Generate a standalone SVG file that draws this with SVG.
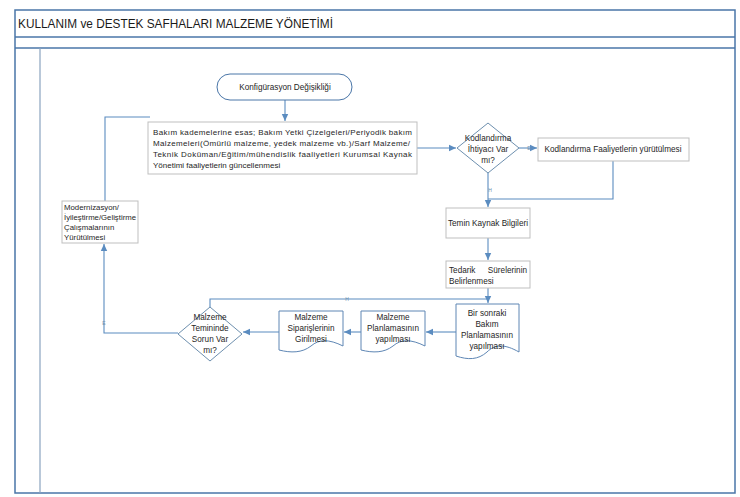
<svg xmlns="http://www.w3.org/2000/svg" width="740" height="497" viewBox="0 0 740 497">
<defs>
<style>
.frame{fill:none;stroke:#4a76a8;stroke-width:1.5}
.box{fill:#fff;stroke:#bfbfbf;stroke-width:1}
.dia{fill:#fff;stroke:#6d8fae;stroke-width:1}
.term{fill:#fff;stroke:#4a76a8;stroke-width:1}
.doc{fill:#fff;stroke:#5e86b4;stroke-width:1}
.t{font-family:"Liberation Sans",Arial,sans-serif;font-size:8.2px;fill:#262626}
.s{font-size:8px}
.m{font-size:7.8px}
.c{text-anchor:middle}
.e{text-anchor:end}
.lbl{font-family:"Liberation Sans",Arial,sans-serif;font-size:5px;fill:#6d8fae;text-anchor:middle}
.con{fill:none;stroke:#5b8cc0;stroke-width:1.1}
</style>
<marker id="ah" markerWidth="8" markerHeight="8" refX="7" refY="4" orient="auto" markerUnits="userSpaceOnUse">
<path d="M0,0.8 L7,4 L0,7.2 Z" fill="#5b8cc0"/>
</marker>
</defs>
<rect width="740" height="497" fill="#fff"/>
<g id="frame">
<rect class="frame" x="15" y="10" width="720" height="483"/>
<line class="frame" x1="15" y1="37" x2="735" y2="37"/>
<line class="frame" x1="15" y1="48" x2="735" y2="48"/>
<line x1="40" y1="48" x2="40" y2="493" stroke="#8aa3bf" stroke-width="1.2"/>
<text x="18" y="28" font-family="Liberation Sans,Arial,sans-serif" font-size="12.5" fill="#1a1a1a" textLength="315" lengthAdjust="spacingAndGlyphs">KULLANIM ve DESTEK SAFHALARI MALZEME YÖNETİMİ</text>
</g>
<g id="connectors">
<path class="con" d="M285,100 V121" marker-end="url(#ah)"/>
<path class="con" d="M105,201 V117 H150"/>
<path class="con" d="M417,148 H456" marker-end="url(#ah)"/>
<path class="con" d="M519,148 H537" marker-end="url(#ah)"/>
<text class="lbl" x="529" y="150">E</text>
<path class="con" d="M613,161 V199 H488"/>
<path class="con" d="M488,173 V207" marker-end="url(#ah)"/>
<text class="lbl" x="490" y="192">H</text>
<path class="con" d="M488,238 V260" marker-end="url(#ah)"/>
<path class="con" d="M488,288 V303" marker-end="url(#ah)"/>
<path class="con" d="M210,307 V299 H488"/>
<text class="lbl" x="347" y="301">H</text>
<path class="con" d="M456,332 H426" marker-end="url(#ah)"/>
<path class="con" d="M361,332 H344" marker-end="url(#ah)"/>
<path class="con" d="M279,332 H243" marker-end="url(#ah)"/>
<path class="con" d="M178,333 H104 V244" marker-end="url(#ah)"/>
<text class="lbl" x="104" y="325">E</text>
</g>
<g id="n-start">
<rect class="term" x="217" y="74" width="135" height="26" rx="13"/>
<text class="t c" x="285" y="90">Konfigürasyon Değişikliği</text>
</g>
<g id="n-guncelleme">
<rect class="box" x="148" y="122" width="269" height="52"/>
<text class="t s" x="153" y="135" textLength="259" lengthAdjust="spacing">Bakım kademelerine esas; Bakım Yetki Çizelgeleri/Periyodik bakım</text>
<text class="t s" x="153" y="146" textLength="257" lengthAdjust="spacing">Malzemeleri(Ömürlü malzeme, yedek malzeme vb.)/Sarf Malzeme/</text>
<text class="t s" x="153" y="157" textLength="259" lengthAdjust="spacing">Teknik Doküman/Eğitim/mühendislik faaliyetleri Kurumsal Kaynak</text>
<text class="t s" x="153" y="168">Yönetimi faaliyetlerin güncellenmesi</text>
</g>
<g id="n-kodlandirma-karar">
<polygon class="dia" points="488,123 519,148 488,173 457,148"/>
<text class="t c" x="488" y="141">Kodlandırma</text>
<text class="t c" x="488" y="152">İhtiyacı Var</text>
<text class="t c" x="488" y="163">mı?</text>
</g>
<g id="n-kodlandirma">
<rect class="box" x="538" y="138" width="151" height="23"/>
<text class="t c" x="613" y="152">Kodlandırma Faaliyetlerin yürütülmesi</text>
</g>
<g id="n-temin">
<rect class="box" x="446" y="208" width="84" height="30"/>
<text class="t c" x="488" y="226">Temin Kaynak Bilgileri</text>
</g>
<g id="n-tedarik">
<rect class="box" x="446" y="261" width="84" height="27"/>
<text class="t" x="449" y="273">Tedarik</text>
<text class="t e" x="527" y="273">Sürelerinin</text>
<text class="t" x="449" y="284">Belirlenmesi</text>
</g>
<g id="n-bakim-plan">
<path class="doc" d="M456,304 H519 V352 C505,344 495,344 487,352 C478,360 468,360 456,356 Z"/>
<text class="t c" x="487" y="316">Bir sonraki</text>
<text class="t c" x="487" y="327">Bakım</text>
<text class="t c" x="487" y="338">Planlamasının</text>
<text class="t c" x="487" y="349">yapılması</text>
</g>
<g id="n-malzeme-plan">
<path class="doc" d="M361,311 H425 V346 C411,339 401,339 393,346 C384,353 373,353 361,350 Z"/>
<text class="t c" x="393" y="320">Malzeme</text>
<text class="t c" x="393" y="331">Planlamasının</text>
<text class="t c" x="393" y="342">yapılması</text>
</g>
<g id="n-siparis">
<path class="doc" d="M279,311 H343 V346 C329,339 319,339 311,346 C302,353 291,353 279,350 Z"/>
<text class="t c" x="311" y="320">Malzeme</text>
<text class="t c" x="311" y="331">Siparişlerinin</text>
<text class="t c" x="311" y="342">Girilmesi</text>
</g>
<g id="n-sorun-karar">
<polygon class="dia" points="210,307 242,334 210,361 178,334"/>
<text class="t c" x="210" y="320">Malzeme</text>
<text class="t c" x="210" y="331">Temininde</text>
<text class="t c" x="210" y="342">Sorun Var</text>
<text class="t c" x="210" y="353">mı?</text>
</g>
<g id="n-modernizasyon">
<rect class="box" x="62" y="201" width="76" height="42"/>
<text class="t m" x="64" y="210">Modernizasyon/</text>
<text class="t m" x="64" y="220" textLength="72" lengthAdjust="spacingAndGlyphs">İyileştirme/Geliştirme</text>
<text class="t m" x="64" y="230">Çalışmalarının</text>
<text class="t m" x="64" y="240">Yürütülmesi</text>
</g>
</svg>
